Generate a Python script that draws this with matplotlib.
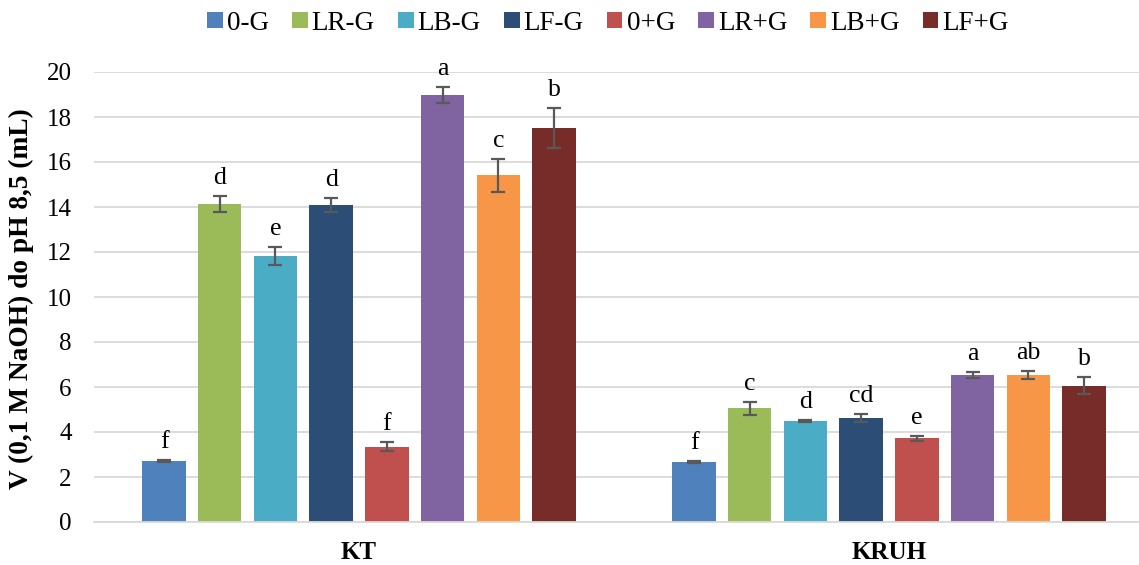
import matplotlib
matplotlib.use("Agg")
import matplotlib.pyplot as plt
import numpy as np

categories = ["KT", "KRUH"]
series = ["0-G", "LR-G", "LB-G", "LF-G", "0+G", "LR+G", "LB+G", "LF+G"]
colors = ["#4F81BD", "#9BBB59", "#4BACC6", "#2C4D75", "#C0504D", "#8064A2", "#F79646", "#772C2A"]
values_kt = [2.70, 14.13, 11.84, 14.10, 3.35, 18.98, 15.41, 17.52]
errors_kt = [0.04, 0.36, 0.40, 0.30, 0.20, 0.36, 0.73, 0.88]
letters_kt = ["f", "d", "e", "d", "f", "a", "c", "b"]
values_kruh = [2.67, 5.05, 4.49, 4.61, 3.72, 6.52, 6.53, 6.06]
errors_kruh = [0.03, 0.30, 0.03, 0.18, 0.10, 0.14, 0.18, 0.37]
letters_kruh = ["f", "c", "d", "cd", "e", "a", "ab", "b"]

plt.rcParams['font.family'] = ['Liberation Serif', 'DejaVu Serif']

fig = plt.figure(figsize=(11.39, 5.65), dpi=100)
ax = fig.add_axes([94 / 1139, 43 / 565, 1060 / 1139, 450 / 565])

vals = np.array([values_kt, values_kruh])
errs = np.array([errors_kt, errors_kruh])
lets = [letters_kt, letters_kruh]

x = np.arange(len(categories))
n = len(series)
step = 0.1051
width = 0.0821
for i in range(n):
    pos = x + (i - (n - 1) / 2) * step
    ax.bar(pos, vals[:, i], width, color=colors[i], label=series[i], zorder=2)
    ax.errorbar(pos, vals[:, i], yerr=errs[:, i], fmt='none', ecolor='#595959',
                elinewidth=1.6, capsize=5, capthick=1.6, zorder=3)
    for j in range(len(categories)):
        ax.annotate(lets[j][i], (pos[j], vals[j, i] + errs[j, i]), xytext=(0, 5),
                    textcoords='offset points', ha='center', va='bottom', fontsize=18.5)

ax.set_xlim(-0.5, 1.5)
ax.set_ylim(0, 20)
ax.set_yticks(np.arange(0, 21, 2))
ax.tick_params(axis='y', length=0, labelsize=18, pad=16)
ax.tick_params(axis='x', length=0, labelsize=18, pad=14)
ax.set_xticks(x)
ax.set_xticklabels(categories, fontweight='bold')
ax.grid(axis='y', color='#D9D9D9', linewidth=1.3, zorder=0)
ax.set_axisbelow(True)
for s in ['top', 'right', 'left']:
    ax.spines[s].set_visible(False)
ax.spines['bottom'].set_color('#D9D9D9')
ax.spines['bottom'].set_linewidth(1.3)
ax.set_ylabel("V (0,1 M NaOH) do pH 8,5 (mL)", fontsize=19.7, fontweight='bold')
ax.yaxis.set_label_coords(-60 / 1060, (522 - 299) / 450)

fig.legend(loc='center', bbox_to_anchor=(608 / 1139, 1 - 23 / 565), ncol=8, frameon=False,
           fontsize=19.5, handlelength=0.58, handleheight=0.55, handletextpad=0.15,
           columnspacing=0.85)

fig.savefig("out.png", dpi=100)
